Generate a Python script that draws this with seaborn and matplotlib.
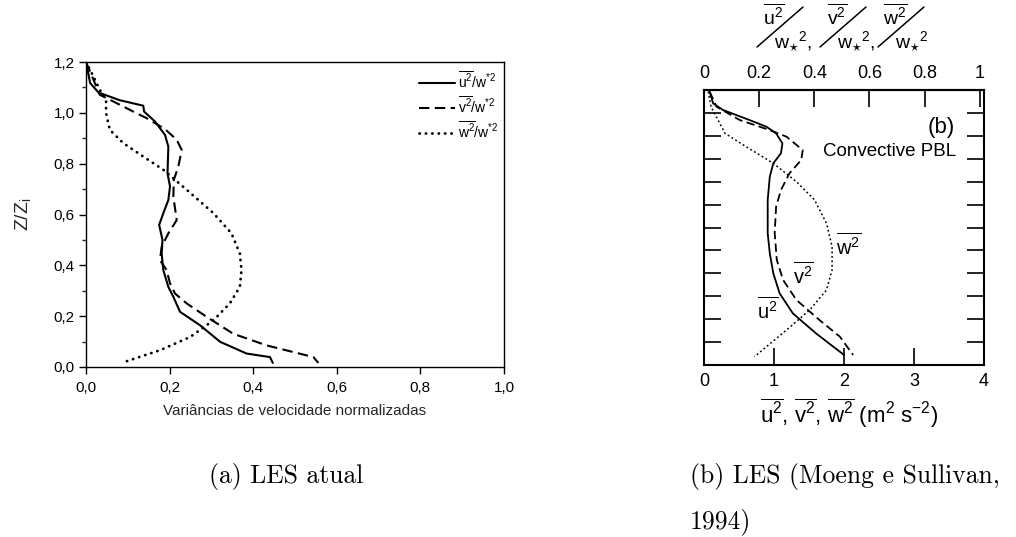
import numpy as np
import pandas as pd
import matplotlib
matplotlib.use("Agg")
import matplotlib.pyplot as plt
from matplotlib.lines import Line2D
from matplotlib.ticker import MultipleLocator, FixedLocator, FixedFormatter, FuncFormatter
import seaborn as sns

# ---------------- data: panel (a) LES atual ----------------
u_z = [1.2, 1.117, 1.08, 1.05, 1.028, 1.005, 0.966, 0.913, 0.867, 0.762, 0.71, 0.657, 0.605,
       0.559, 0.5, 0.447, 0.381, 0.315, 0.276, 0.217, 0.164, 0.099, 0.053, 0.039, 0.016]
u_x = [0.0, 0.01, 0.03, 0.08, 0.137, 0.139, 0.165, 0.189, 0.197, 0.195, 0.201, 0.197, 0.185,
       0.175, 0.183, 0.181, 0.185, 0.197, 0.209, 0.225, 0.273, 0.321, 0.384, 0.44, 0.447]
v_z = [1.2, 1.071, 1.045, 1.005, 0.979, 0.936, 0.894, 0.854, 0.789, 0.736, 0.67, 0.578, 0.526,
       0.473, 0.42, 0.381, 0.329, 0.289, 0.25, 0.197, 0.131, 0.085, 0.039, 0.016]
v_x = [0.0, 0.033, 0.065, 0.113, 0.145, 0.189, 0.217, 0.229, 0.221, 0.21, 0.209, 0.217, 0.197,
       0.181, 0.177, 0.193, 0.201, 0.213, 0.241, 0.289, 0.352, 0.432, 0.544, 0.556]
w_z = [1.2, 1.144, 1.091, 1.052, 0.999, 0.933, 0.881, 0.828, 0.776, 0.697, 0.605, 0.526, 0.447,
       0.381, 0.315, 0.25, 0.184, 0.118, 0.066, 0.016]
w_x = [0.0, 0.0175, 0.033, 0.048, 0.048, 0.057, 0.089, 0.137, 0.185, 0.241, 0.305, 0.348, 0.368,
       0.372, 0.368, 0.344, 0.305, 0.249, 0.177, 0.085]
a_xticks = [0.0, 0.2, 0.4, 0.6, 0.8, 1.0]
a_yticks = [0.0, 0.2, 0.4, 0.6, 0.8, 1.0, 1.2]

# ---------------- data: panel (b) Moeng & Sullivan (1994) ----------------
ru_z = [1.193, 1.142, 1.113, 1.069, 1.04, 1.011, 0.967, 0.924, 0.88, 0.822, 0.72, 0.575, 0.487,
        0.4, 0.313, 0.225, 0.138, 0.044]
ru_x = [0.08, 0.13, 0.27, 0.65, 0.89, 1.03, 1.12, 1.10, 0.99, 0.94, 0.91, 0.91, 0.94,
        0.99, 1.08, 1.27, 1.60, 2.0]
rv_z = [1.193, 1.127, 1.069, 1.025, 0.996, 0.938, 0.895, 0.836, 0.764, 0.691, 0.575, 0.458,
        0.371, 0.284, 0.196, 0.124, 0.044]
rv_x = [0.08, 0.18, 0.51, 0.94, 1.18, 1.41, 1.39, 1.22, 1.10, 1.03, 1.01, 1.04,
        1.13, 1.32, 1.65, 1.94, 2.13]
rw_z = [1.193, 1.127, 1.069, 1.011, 0.953, 0.88, 0.8, 0.72, 0.618, 0.516, 0.415, 0.327, 0.24,
        0.153, 0.036]
rw_x = [0.06, 0.10, 0.20, 0.30, 0.60, 0.99, 1.32, 1.58, 1.75, 1.83, 1.83, 1.75, 1.51,
        1.18, 0.72]
b_xticks = [0, 1, 2, 3, 4]
b_top_ticks = [0, 0.2, 0.4, 0.6, 0.8, 1]
b_top_labels = ["0", "0.2", "0.4", "0.6", "0.8", "1"]
W_STAR2 = 3.94  # m^2 s^-2 corresponding to 1 on the normalized top axis

# ---------------- style ----------------
sns.set_theme(style="white")
plt.rcParams["font.family"] = ["Liberation Sans", "DejaVu Sans"]
plt.rcParams["mathtext.default"] = "regular"
plt.rcParams["mathtext.fontset"] = "custom"
plt.rcParams["mathtext.rm"] = "Liberation Sans"
plt.rcParams["mathtext.it"] = "Liberation Sans:italic"
plt.rcParams["axes.edgecolor"] = "black"
plt.rcParams["text.color"] = "black"

W, H = 1016, 537
fig = plt.figure(figsize=(W / 100, H / 100), dpi=100)
fig.patch.set_facecolor("white")

def px_axes(l, t, r, b):
    return fig.add_axes([l / W, 1 - b / H, (r - l) / W, (b - t) / H])

def fx(x):
    return x / W

def fy(y):
    return 1 - y / H

# ================= panel (a) =================
axa = px_axes(86, 62, 504, 367)
df_u = pd.DataFrame({"x": u_x, "z": u_z})
df_v = pd.DataFrame({"x": v_x, "z": v_z})
df_w = pd.DataFrame({"x": w_x, "z": w_z})
sns.lineplot(data=df_u, x="x", y="z", sort=False, estimator=None, ax=axa, color="black",
             linewidth=1.5, label=r"$\overline{u^{2}}$/w$^{*2}$")
sns.lineplot(data=df_v, x="x", y="z", sort=False, estimator=None, ax=axa, color="black",
             linewidth=1.5, linestyle=(0, (5, 2.6)), label=r"$\overline{v^{2}}$/w$^{*2}$")
sns.lineplot(data=df_w, x="x", y="z", sort=False, estimator=None, ax=axa, color="black",
             linewidth=2.0, linestyle=(0, (0.1, 2.2)), dash_capstyle="round",
             label=r"$\overline{w^{2}}$/w$^{*2}$")
axa.set_xlim(0, 1.0)
axa.set_ylim(0, 1.2)
axa.set_xticks(a_xticks)
axa.set_yticks(a_yticks)
axa.yaxis.set_minor_locator(MultipleLocator(0.1))
comma = FuncFormatter(lambda v, p: f"{v:.1f}".replace(".", ","))
axa.xaxis.set_major_formatter(comma)
axa.yaxis.set_major_formatter(comma)
axa.tick_params(axis="both", which="major", direction="out", length=5, width=1,
                labelsize=11, colors="black", bottom=True, left=True, top=False, right=False)
axa.tick_params(axis="y", which="minor", direction="out", length=3, width=1, left=True)
axa.tick_params(axis="x", which="major", pad=5)
axa.tick_params(axis="y", which="major", pad=3)
for s in axa.spines.values():
    s.set_linewidth(1.0)
    s.set_color("black")
axa.set_xlabel("Variâncias de velocidade normalizadas", fontsize=11)
axa.xaxis.set_label_coords(0.5, (367 - 404) / 305)
axa.set_ylabel(r"Z/Z$_{i}$", fontsize=14)
axa.yaxis.set_label_coords((33 - 86) / 418, 0.5)
leg = axa.legend(loc="upper right", bbox_to_anchor=((499 - 86) / 418, (367 - 70) / 305),
                 bbox_transform=axa.transAxes, frameon=False, fontsize=10,
                 handlelength=2.6, handletextpad=0.25, labelspacing=0.3,
                 borderaxespad=0.0, borderpad=0.0)

# ================= panel (b) =================
axb = px_axes(704, 90, 984, 365)
df_ru = pd.DataFrame({"x": ru_x, "z": ru_z})
df_rv = pd.DataFrame({"x": rv_x, "z": rv_z})
df_rw = pd.DataFrame({"x": rw_x, "z": rw_z})
sns.lineplot(data=df_ru, x="x", y="z", sort=False, estimator=None, ax=axb, color="black",
             linewidth=1.3)
sns.lineplot(data=df_rv, x="x", y="z", sort=False, estimator=None, ax=axb, color="black",
             linewidth=1.3, linestyle=(0, (4.6, 2.4)))
sns.lineplot(data=df_rw, x="x", y="z", sort=False, estimator=None, ax=axb, color="black",
             linewidth=1.1, linestyle=(0, (1.2, 1.7)))
axb.set_xlim(0, 4)
axb.set_ylim(0, 1.2)
axb.set_xticks(b_xticks)
axb.set_yticks(np.arange(0.1, 1.15, 0.1))
axb.set_yticklabels([])
axb.set_xlabel("")
axb.set_ylabel("")
axb.tick_params(axis="both", which="major", direction="in", length=12, width=1.2,
                labelsize=13, colors="black", bottom=True, left=True, right=True, top=False)
axb.tick_params(axis="x", pad=6)
for s in axb.spines.values():
    s.set_linewidth(1.5)
    s.set_color("black")

top = axb.secondary_xaxis("top", functions=(lambda x: x / W_STAR2, lambda x: x * W_STAR2))
top.xaxis.set_major_locator(FixedLocator(b_top_ticks))
top.xaxis.set_major_formatter(FixedFormatter(b_top_labels))
top.tick_params(direction="in", length=12, width=1.2, labelsize=13, colors="black", pad=6)
top.spines["top"].set_linewidth(1.5)

axb.text((941 - 704) / 280, (365 - 127) / 275, "(b)", transform=axb.transAxes, fontsize=16,
         ha="center", va="center")
axb.text((890 - 704) / 280, (365 - 152) / 275, "Convective PBL", transform=axb.transAxes,
         fontsize=13.5, ha="center", va="center")
axb.text(2.06, 0.52, r"$\overline{w^{2}}$", fontsize=14.5, ha="center", va="center")
axb.text(1.42, 0.39, r"$\overline{v^{2}}$", fontsize=14.5, ha="center", va="center")
axb.text(0.91, 0.24, r"$\overline{u^{2}}$", fontsize=14.5, ha="center", va="center")

fig.text(fx(849), fy(413),
         r"$\overline{u^{2}}$, $\overline{v^{2}}$, $\overline{w^{2}}$ (m$^{2}$ s$^{-2}$)",
         fontsize=16, ha="center", va="center")

# normalized-variance label above the top axis (diagonal fractions)
for x0, num, tail in [(757, r"$\overline{u^{2}}$", ","), (820, r"$\overline{v^{2}}$", ","),
                      (878, r"$\overline{w^{2}}$", "")]:
    fig.text(fx(x0 + 17), fy(16), num, fontsize=14, ha="center", va="center")
    fig.add_artist(Line2D([fx(x0), fx(x0 + 46)], [fy(47), fy(7)], transform=fig.transFigure,
                          color="black", linewidth=1.1))
    fig.text(fx(x0 + 17), fy(42), r"w$_{\star}$$^{2}$" + tail, fontsize=14,
             ha="left", va="center")

# ================= captions =================
cap = dict(fontsize=18.5, family="cmr10", ha="left", va="center")
fig.text(fx(209), fy(477), "(a) LES atual", **cap)
fig.text(fx(690), fy(477), "(b) LES (Moeng e Sullivan,", **cap)
fig.text(fx(690), fy(522), "1994)", **cap)

fig.savefig("out.png", dpi=100, facecolor="white")
